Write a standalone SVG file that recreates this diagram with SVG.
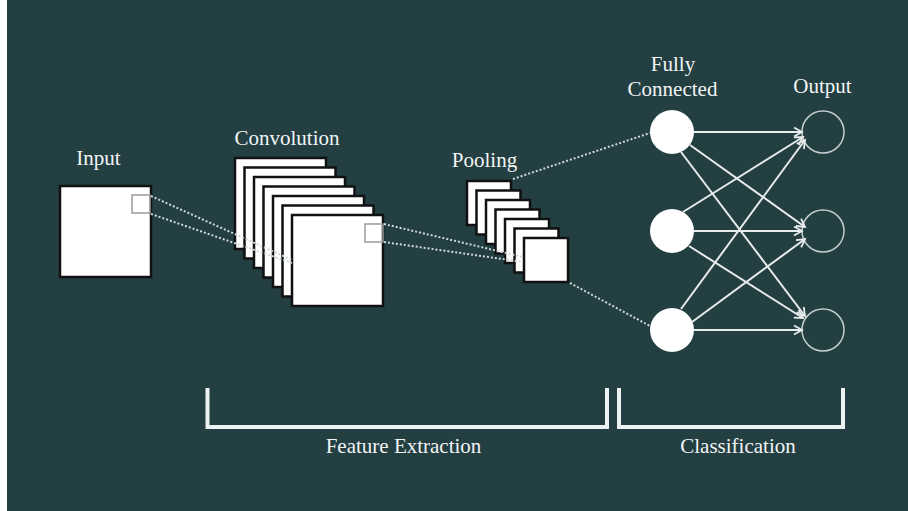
<svg xmlns="http://www.w3.org/2000/svg" width="908" height="511" viewBox="0 0 908 511">
<defs>
<style>
text{font-family:'Liberation Serif','DejaVu Serif','Noto Serif',serif;font-size:21px;fill:#f2f4f4;text-anchor:middle}
.map{fill:#ffffff;stroke:#111111;stroke-width:2.5}
.win{fill:none;stroke:#9a9a9a;stroke-width:1.5}
.dot{fill:none;stroke:#d0d8d8;stroke-width:2;stroke-dasharray:2 2}
.fc{fill:#ffffff}
.out{fill:none;stroke:#c4cccc;stroke-width:1.5}
.arr{fill:none;stroke:#e8ecec;stroke-width:2;marker-end:url(#ah)}
.brk{fill:none;stroke:#eef2f2;stroke-width:4}
</style>
<marker id="ah" markerUnits="userSpaceOnUse" markerWidth="12" markerHeight="12" refX="9" refY="5" orient="auto">
<path d="M1,0.5 L9,5 L1,9.5" fill="none" stroke="#e8ecec" stroke-width="1.8"/>
</marker>
</defs>
<rect x="0" y="0" width="908" height="511" fill="#ffffff"/>
<rect x="7" y="0" width="901" height="511" fill="#233f42"/>

<g id="input">
<rect class="map" x="60" y="186" width="91" height="91"/>
<rect class="win" x="132" y="195" width="18" height="18"/>
<text x="98.5" y="165" font-family="Liberation Serif, serif">Input</text>
</g>

<g id="convolution">
<rect class="map" x="235" y="158" width="91" height="91"/>
<rect class="map" x="244.5" y="167.5" width="91" height="91"/>
<rect class="map" x="254" y="177" width="91" height="91"/>
<rect class="map" x="263.5" y="186.5" width="91" height="91"/>
<rect class="map" x="273" y="196" width="91" height="91"/>
<rect class="map" x="282.5" y="205.5" width="91" height="91"/>
<rect class="map" x="292" y="215" width="91" height="91"/>
<rect class="win" x="365" y="224" width="18" height="18"/>
<text x="287" y="145" font-family="Liberation Serif, serif">Convolution</text>
</g>

<g id="pooling">
<rect class="map" x="467" y="181" width="44" height="44"/>
<rect class="map" x="476.5" y="190.5" width="44" height="44"/>
<rect class="map" x="486" y="200" width="44" height="44"/>
<rect class="map" x="495.5" y="209.5" width="44" height="44"/>
<rect class="map" x="505" y="219" width="44" height="44"/>
<rect class="map" x="514.5" y="228.5" width="44" height="44"/>
<rect class="map" x="524" y="238" width="44" height="44"/>
<text x="484.5" y="167" font-family="Liberation Serif, serif">Pooling</text>
</g>

<g id="fully-connected">
<circle class="fc" cx="672" cy="132" r="22"/>
<circle class="fc" cx="672" cy="231" r="22"/>
<circle class="fc" cx="672" cy="330" r="22"/>
<text x="673" y="71" font-family="Liberation Serif, serif">Fully</text>
<text x="672.5" y="96" font-family="Liberation Serif, serif">Connected</text>
</g>

<g id="output">
<circle class="out" cx="823" cy="132" r="21"/>
<circle class="out" cx="823" cy="231" r="21"/>
<circle class="out" cx="823" cy="330" r="21"/>
<text x="822.5" y="93" font-family="Liberation Serif, serif">Output</text>
</g>

<g id="feature-extraction">
<path class="brk" d="M207.5,388 V427 H607 V388"/>
<text x="403.5" y="453" font-family="Liberation Serif, serif">Feature Extraction</text>
</g>

<g id="classification">
<path class="brk" d="M619,388 V427 H843 V388"/>
<text x="738" y="453" font-family="Liberation Serif, serif">Classification</text>
</g>

<g id="connectors">
<path class="dot" d="M151,196 L292,260"/>
<path class="dot" d="M151,214 L292,263"/>
<path class="dot" d="M384,224 L523,257"/>
<path class="dot" d="M384,242 L523,262"/>
<path class="dot" d="M513,179 L650,133"/>
<path class="dot" d="M570,283 L650,326"/>
<path class="arr" d="M694,132 L802,132"/>
<path class="arr" d="M690,145 L805,227"/>
<path class="arr" d="M681,152 L805,316"/>
<path class="arr" d="M683,212 L803,137"/>
<path class="arr" d="M694,231 L802,231"/>
<path class="arr" d="M689,246 L803,318"/>
<path class="arr" d="M681,309 L805,140"/>
<path class="arr" d="M692,322 L805,239"/>
<path class="arr" d="M694,330 L802,330"/>
</g>
</svg>
